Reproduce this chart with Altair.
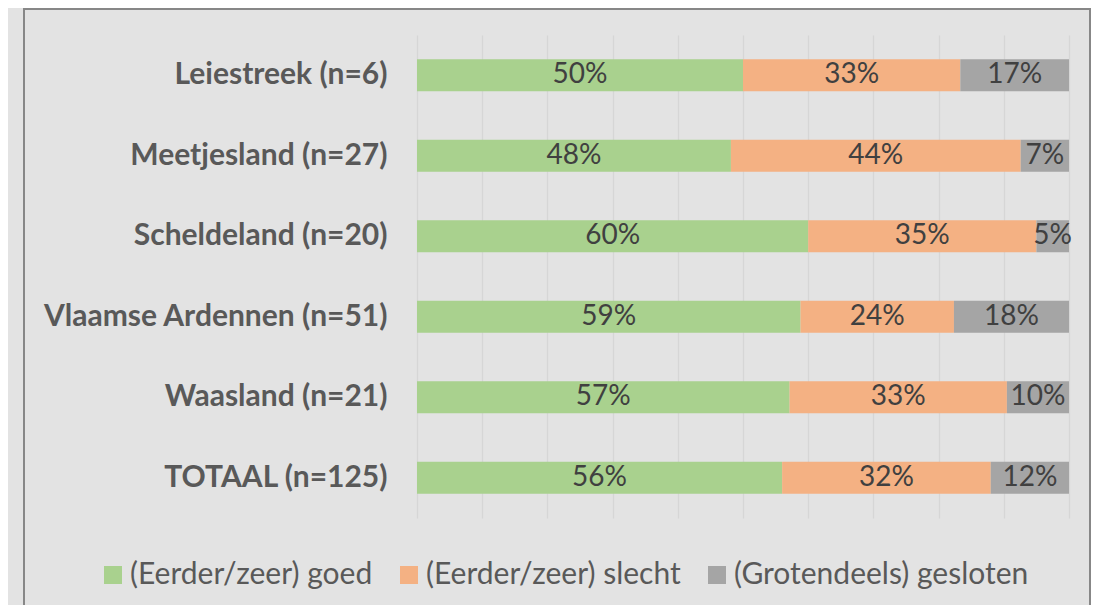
import altair as alt
import pandas as pd

regions = ["Leiestreek (n=6)", "Meetjesland (n=27)", "Scheldeland (n=20)",
           "Vlaamse Ardennen (n=51)", "Waasland (n=21)", "TOTAAL (n=125)"]
categories = ["(Eerder/zeer) goed", "(Eerder/zeer) slecht", "(Grotendeels) gesloten"]
goed = [3, 13, 12, 30, 12, 70]
slecht = [2, 12, 7, 12, 7, 40]
gesloten = [1, 2, 1, 9, 2, 15]
colors = ["#a9d18e", "#f4b183", "#a5a5a5"]
grid_ticks = [0, 0.1, 0.2, 0.3, 0.4, 0.5, 0.6, 0.7, 0.8, 0.9, 1.0]

rows = []
for i, r in enumerate(regions):
    for k, (cat, vals) in enumerate(zip(categories, [goed, slecht, gesloten])):
        rows.append({"region": r, "cat": cat, "order": k, "count": vals[i]})
df = pd.DataFrame(rows)

FONT = "Lato"
W, H = 652, 483
PL, PT = 409, 27
TOTAL_W, TOTAL_H = 1083, 597
FRAME = "#878787"

base = alt.Chart(df).transform_joinaggregate(
    total="sum(count)", groupby=["region"]
).transform_calculate(
    pct="datum.count / datum.total"
).transform_stack(
    stack="pct", as_=["p0", "p1"], groupby=["region"],
    sort=[alt.SortField("order", order="ascending")]
).transform_calculate(
    mid="(datum.p0 + datum.p1) / 2"
)

yenc = alt.Y("region:N", sort=regions,
             scale=alt.Scale(paddingInner=0.6, paddingOuter=0.3),
             axis=alt.Axis(title=None, ticks=False, domain=False,
                           labelFont=FONT, labelFontWeight="bold",
                           labelFontSize=30, labelColor="#595959",
                           labelPadding=30, labelLimit=400))

bars = base.mark_bar().encode(
    x=alt.X("p0:Q", scale=alt.Scale(domain=[0, 1], nice=False),
            axis=alt.Axis(title=None, labels=False, ticks=False, domain=False,
                          values=grid_ticks, grid=True,
                          gridColor="#d6d6d6", gridWidth=1.3)),
    x2="p1:Q",
    y=yenc,
    color=alt.Color("cat:N", sort=categories,
                    scale=alt.Scale(domain=categories, range=colors),
                    legend=alt.Legend(title=None, orient="none",
                                      direction="horizontal",
                                      legendX=-319, legendY=525,
                                      symbolType="square", symbolSize=324,
                                      symbolStrokeWidth=0,
                                      labelFont=FONT, labelFontSize=30,
                                      labelColor="#595959", labelOffset=2,
                                      columnPadding=21, padding=0,
                                      labelLimit=400)),
)

texts = base.mark_text(font=FONT, fontSize=28, color="#404040").encode(
    x=alt.X("mid:Q"),
    y=alt.Y("region:N", sort=regions),
    text=alt.Text("pct:Q", format=".0%"),
)

frame_df = pd.DataFrame({"f": [0]})
fbase = alt.Chart(frame_df).mark_rule(color=FRAME, strokeWidth=2)
frame_left = fbase.encode(x=alt.value(16 - PL), y=alt.value(0 - PT), y2=alt.value(640 - PT))
frame_right = fbase.encode(x=alt.value(1082 - PL), y=alt.value(0 - PT), y2=alt.value(640 - PT))
frame_top = fbase.encode(x=alt.value(15 - PL), x2=alt.value(1083 - PL), y=alt.value(1 - PT))

chart = alt.layer(frame_left, frame_right, frame_top, bars, texts).properties(
    width=W, height=H,
    autosize=alt.AutoSizeParams(type="none"),
    padding={"left": PL, "top": PT, "right": TOTAL_W - PL - W, "bottom": TOTAL_H - PT - H},
).configure(background="#e3e3e3").configure_view(stroke=None)

chart.save("out.html", embed_options={"renderer": "svg", "actions": False})
